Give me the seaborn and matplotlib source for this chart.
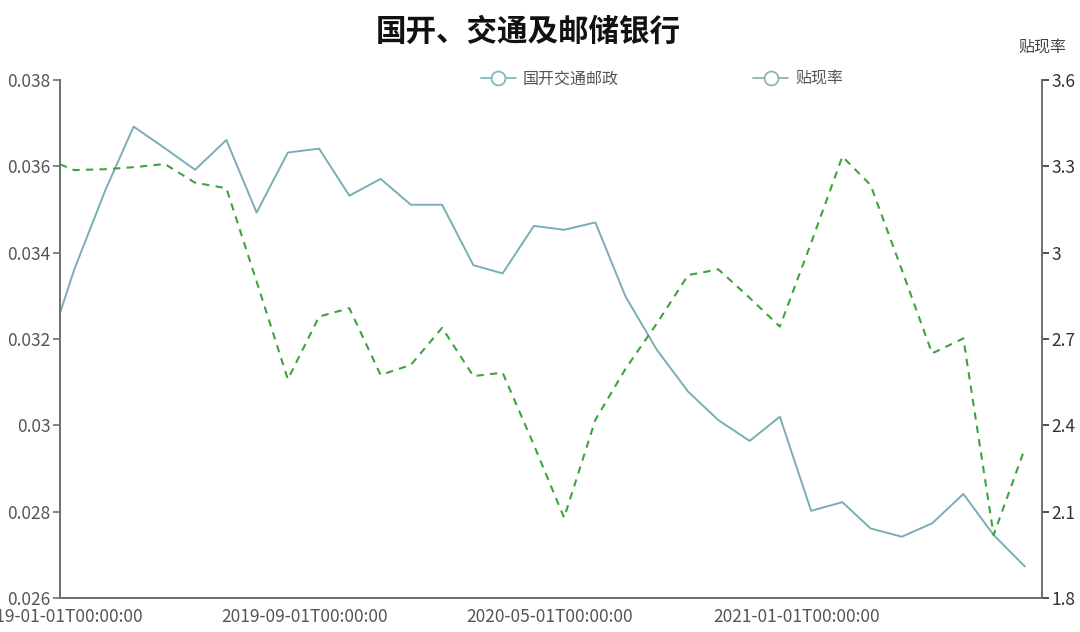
import matplotlib
matplotlib.use('Agg')
import matplotlib.pyplot as plt
from matplotlib.lines import Line2D
from matplotlib.ticker import FuncFormatter
import numpy as np
import pandas as pd
import seaborn as sns

dates = ['2019-01-01', '2019-01-15', '2019-02-15', '2019-03-15', '2019-04-15', '2019-05-15',
         '2019-06-15', '2019-07-15', '2019-08-15', '2019-09-15', '2019-10-15', '2019-11-15',
         '2019-12-15', '2020-01-15', '2020-02-15', '2020-03-15', '2020-04-15', '2020-05-15',
         '2020-06-15', '2020-07-15', '2020-08-15', '2020-09-15', '2020-10-15', '2020-11-15',
         '2020-12-15', '2021-01-15', '2021-02-15', '2021-03-15', '2021-04-15', '2021-05-15',
         '2021-06-15', '2021-07-15', '2021-08-15']

bank_yield = [0.0326, 0.0336, 0.03545, 0.03692, 0.03642, 0.03592,
              0.03661, 0.03493, 0.03632, 0.03641, 0.03532, 0.03571,
              0.03511, 0.03511, 0.03371, 0.03352, 0.03462, 0.03453,
              0.03470, 0.03298, 0.03175, 0.03078, 0.03012, 0.02964,
              0.03020, 0.02802, 0.02822, 0.02761, 0.02742, 0.02773,
              0.02841, 0.02746, 0.02673]

discount_rate = [3.307, 3.287, 3.290, 3.297, 3.308, 3.243,
                 3.224, 2.900, 2.560, 2.778, 2.807, 2.575,
                 2.610, 2.739, 2.571, 2.583, 2.332, 2.079,
                 2.419, 2.597, 2.754, 2.922, 2.942, 2.843,
                 2.743, 3.034, 3.334, 3.235, 2.940, 2.650,
                 2.702, 2.019, 2.320]

tick_dates = ['2019-01-01', '2019-09-01', '2020-05-01', '2021-01-01']
left_ticks = [0.026, 0.028, 0.030, 0.032, 0.034, 0.036, 0.038]
right_ticks = [1.8, 2.1, 2.4, 2.7, 3.0, 3.3, 3.6]

df = pd.DataFrame({'date': pd.to_datetime(dates),
                   'bank': bank_yield,
                   'rate': discount_rate})

sns.set_style('white')
plt.rcParams['font.family'] = ['Noto Sans CJK SC', 'DejaVu Sans']

blue = '#7aaeb6'
green = '#3da33d'
axis_col = '#6e6e6e'

fig = plt.figure(figsize=(10.8, 6.32), dpi=100)
ax = fig.add_axes([60 / 1080, 1 - 598 / 632, 982 / 1080, 518 / 632])
ax2 = ax.twinx()

sns.lineplot(data=df, x='date', y='bank', ax=ax, color=blue, linewidth=1.4)
sns.lineplot(data=df, x='date', y='rate', ax=ax2, color=green, linewidth=1.5,
             linestyle=(0, (3.5, 3.0)))

ax.set_xlim(pd.Timestamp('2019-01-01'), pd.Timestamp('2021-09-01'))
ax.set_ylim(0.026, 0.038)
ax2.set_ylim(1.8, 3.6)

ax.set_xticks(pd.to_datetime(tick_dates))
ax.set_xticklabels([pd.Timestamp(d).strftime('%Y-%m-%dT%H:%M:%S') for d in tick_dates])
ax.set_yticks(left_ticks)
ax2.set_yticks(right_ticks)
fmt = FuncFormatter(lambda v, p: f'{round(v, 4):g}')
ax.yaxis.set_major_formatter(fmt)
ax2.yaxis.set_major_formatter(fmt)

ax.set_xlabel('')
ax.set_ylabel('')
ax2.set_ylabel('')

for a in (ax, ax2):
    for s in a.spines.values():
        s.set_visible(False)
    a.grid(False)
for s, a in (('left', ax), ('bottom', ax), ('right', ax2)):
    a.spines[s].set_visible(True)
    a.spines[s].set_color(axis_col)
    a.spines[s].set_linewidth(1.4)

ax.tick_params(axis='both', direction='out', length=5, width=1.2, color=axis_col,
               labelsize=12.5, labelcolor='#555555', pad=2)
ax.tick_params(axis='x', pad=2)
ax2.tick_params(axis='y', direction='out', length=5, width=1.2, color='#333333',
                labelsize=12.5, labelcolor='#333333', pad=2)

fig.text(528 / 1080, 1 - 32 / 632, '国开、交通及邮储银行', ha='center', va='center',
         fontsize=22, fontweight='bold', color='#111111')
fig.text(1042 / 1080, 1 - 48 / 632, '贴现率', ha='center', va='center',
         fontsize=11.5, color='#444444')

handles = [Line2D([], [], color='#80b9ba', linewidth=1.3, marker='o', markersize=10,
                  markerfacecolor='white', markeredgewidth=1.3),
           Line2D([], [], color='#8fb5a0', linewidth=1.3, marker='o', markersize=10,
                  markerfacecolor='white', markeredgewidth=1.3)]
fig.legend(handles, ['国开交通邮政', '贴现率'], ncol=2, loc='center',
           bbox_to_anchor=(662 / 1080, 1 - 79 / 632), frameon=False,
           fontsize=11.5, labelcolor='#555555', handlelength=2.2,
           handletextpad=0.45, columnspacing=8.4)

fig.savefig('out.png', dpi=100)
